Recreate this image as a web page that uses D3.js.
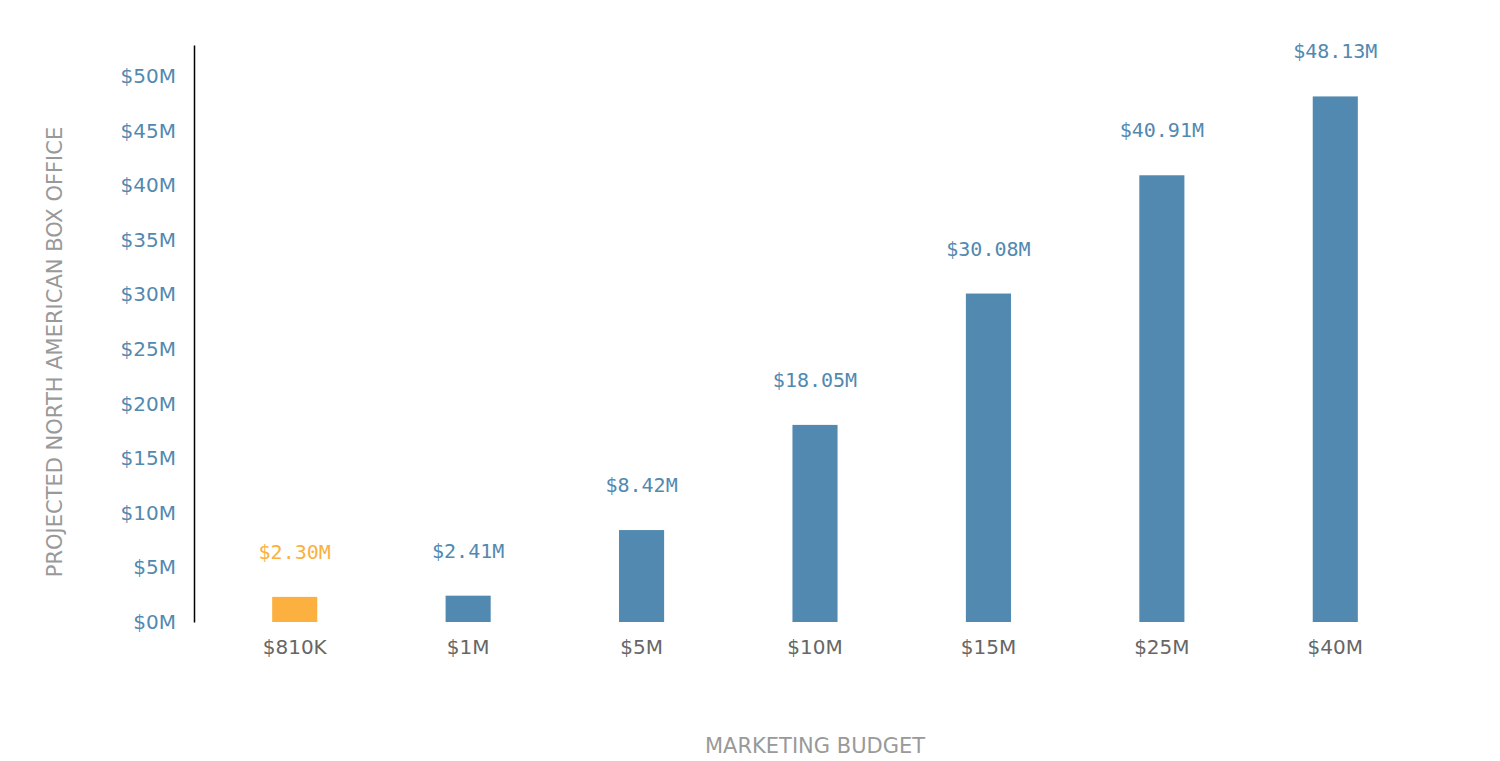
<!DOCTYPE html>
<html><head><meta charset="utf-8">
<script src="https://cdn.jsdelivr.net/npm/d3@7"></script>
<style>body{margin:0;background:#fff}</style>
</head><body>
<svg id="chart" width="1500" height="761"></svg>
<script>
// Data
const budgets = ["$810K","$1M","$5M","$10M","$15M","$25M","$40M"];
const boxOffice = [2.30, 2.41, 8.42, 18.05, 30.08, 40.91, 48.13];
const yTicks = [0,5,10,15,20,25,30,35,40,45,50];

const svg = d3.select("#chart");
const blue = "#5289b0", orange = "#fbb040";

const x = d3.scaleBand().domain(budgets).range([208, 1422]).paddingInner(0.74).paddingOuter(0.37);
const y = d3.scaleLinear().domain([0, 52.84]).range([622, 45]);

// Y axis
const yAxis = svg.append("g").attr("transform", "translate(194,0)")
  .call(d3.axisLeft(y).tickValues(yTicks).tickSize(0).tickPadding(18).tickFormat(d => `$${d}M`));
yAxis.select(".domain").attr("stroke", "#000").attr("stroke-width", 1.5);
yAxis.selectAll("text").attr("fill", blue).style("font", "20px 'DejaVu Sans'");

// X axis
const xAxis = svg.append("g").attr("transform", "translate(0,622)")
  .call(d3.axisBottom(x).tickSize(0).tickPadding(18));
xAxis.select(".domain").remove();
xAxis.selectAll("text").attr("fill", "#666").style("font", "20px 'DejaVu Sans'");

// Bars
svg.selectAll("rect.bar").data(boxOffice).join("rect")
  .attr("class", "bar")
  .attr("x", (d, i) => x(budgets[i]))
  .attr("width", x.bandwidth())
  .attr("y", d => y(d))
  .attr("height", d => y(0) - y(d))
  .attr("fill", (d, i) => i === 0 ? orange : blue);

// Value labels
svg.selectAll("text.val").data(boxOffice).join("text")
  .attr("class", "val")
  .attr("x", (d, i) => x(budgets[i]) + x.bandwidth() / 2)
  .attr("y", d => y(d) - 38)
  .attr("text-anchor", "middle")
  .attr("fill", (d, i) => i === 0 ? orange : blue)
  .style("font", "20px 'DejaVu Sans Mono'")
  .text(d => `$${d.toFixed(2)}M`);

// Axis titles
svg.append("text").attr("x", 815).attr("y", 753).attr("text-anchor", "middle")
  .attr("fill", "#999").style("font", "21px 'DejaVu Sans'").text("MARKETING BUDGET");
svg.append("text").attr("transform", "translate(62,352) rotate(-90)").attr("text-anchor", "middle")
  .attr("fill", "#999").style("font", "21px 'DejaVu Sans'").text("PROJECTED NORTH AMERICAN BOX OFFICE");
</script>
</body></html>
